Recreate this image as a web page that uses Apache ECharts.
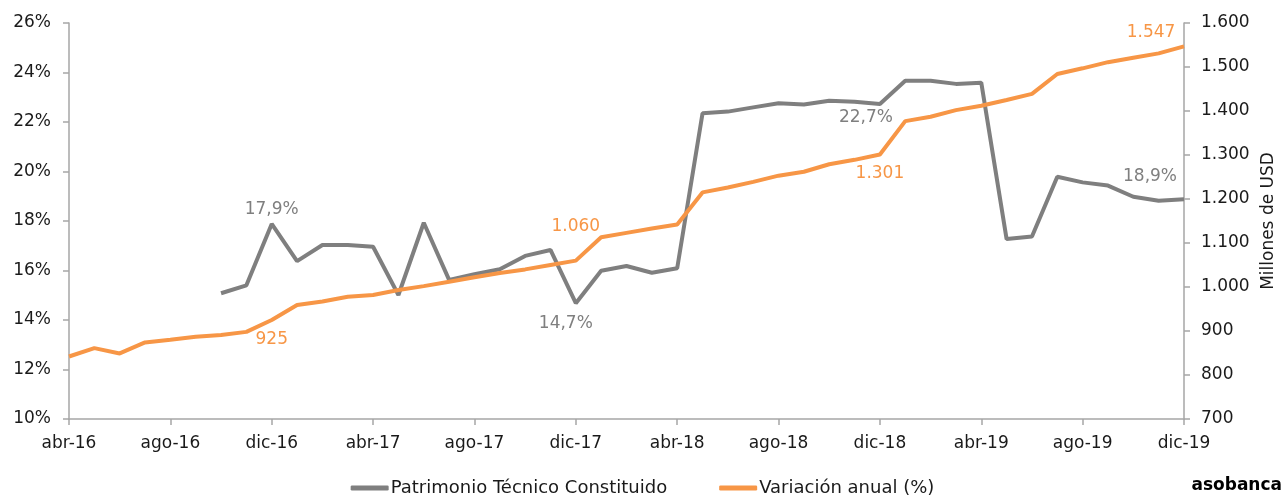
<!DOCTYPE html>
<html>
<head>
<meta charset="utf-8">
<script src="https://cdn.jsdelivr.net/npm/echarts@6/dist/echarts.min.js"></script>
<style>
  html, body { margin: 0; padding: 0; background: #fff; }
  #chart { width: 1285px; height: 496px; }
</style>
</head>
<body>
<div id="chart"></div>
<script>
// meses abr-16 .. dic-19
const months = [
  "abr-16", "may-16", "jun-16", "jul-16", "ago-16", "sep-16", "oct-16", "nov-16", "dic-16",
  "ene-17", "feb-17", "mar-17", "abr-17", "may-17", "jun-17", "jul-17", "ago-17", "sep-17", "oct-17", "nov-17", "dic-17",
  "ene-18", "feb-18", "mar-18", "abr-18", "may-18", "jun-18", "jul-18", "ago-18", "sep-18", "oct-18", "nov-18", "dic-18",
  "ene-19", "feb-19", "mar-19", "abr-19", "may-19", "jun-19", "jul-19", "ago-19", "sep-19", "oct-19", "nov-19", "dic-19"
];

// linea gris (eje izquierdo, %)
const patrimonio = [
  null, null, null, null, null, null, 15.08, 15.40, 17.88,
  16.38, 17.03, 17.03, 16.96, 15.01, 17.93, 15.62, 15.85, 16.05, 16.59, 16.83, 14.68,
  15.99, 16.18, 15.91, 16.09, 22.35, 22.42, 22.59, 22.76, 22.71, 22.86, 22.82, 22.73,
  23.67, 23.67, 23.54, 23.59, 17.27, 17.37, 19.79, 19.56, 19.43, 18.98, 18.82, 18.88
];

// linea naranja (eje derecho, millones de USD)
const variacion = [
  842, 861, 849, 874, 880, 887, 891, 898, 925,
  959, 967, 978, 982, 993, 1002, 1012, 1022, 1032, 1040, 1050, 1060,
  1113, 1123, 1133, 1142, 1215, 1226, 1239, 1253, 1262, 1279, 1289, 1301,
  1377, 1387, 1402, 1412, 1425, 1439, 1484, 1497, 1511, 1521, 1531, 1547
];

const leftTicks = { min: 10, max: 26, interval: 2 };
const rightTicks = { min: 700, max: 1600, interval: 100 };

const GREY = "#7f7f7f";
const ORANGE = "#f79646";
const AXIS = "#a6a6a6";
const FONT = "DejaVu Sans";
const TEXT = "#1a1a1a";

// etiquetas puntuales
const greyLabels = {
  8: { position: "top", distance: 6 },
  20: { position: "bottom", distance: 12, offset: [-10, 0] },
  32: { position: "bottom", distance: 5, offset: [-14, 0] },
  44: { position: "top", distance: 14, offset: [-34, 0] }
};
const orangeLabels = {
  8: { position: "bottom", distance: 11 },
  20: { position: "top", distance: 26 },
  32: { position: "bottom", distance: 11 },
  44: { position: "top", distance: 5, offset: [-33, 0] }
};

const fmtPct = v => v.toFixed(1).replace(".", ",") + "%";
const fmtThousand = v => String(Math.round(v)).replace(/\B(?=(\d{3})+(?!\d))/g, ".");

function withLabels(values, labels, color, fmt) {
  return values.map((v, i) => {
    if (!labels[i]) return v;
    return {
      value: v,
      label: Object.assign({
        show: true,
        color: color,
        fontFamily: FONT,
        fontSize: 17,
        formatter: p => fmt(p.value)
      }, labels[i])
    };
  });
}

const chart = echarts.init(document.getElementById("chart"));
chart.setOption({
  animation: false,
  textStyle: { fontFamily: FONT },
  grid: { left: 69, right: 101, top: 23, bottom: 77, containLabel: false, outerBoundsMode: "none" },
  legend: {
    top: 474,
    left: "center",
    itemWidth: 38,
    itemHeight: 5,
    itemGap: 52,
    icon: "roundRect",
    textStyle: { fontFamily: FONT, fontSize: 18, color: TEXT, padding: [0, 0, 0, -3] },
    data: ["Patrimonio Técnico Constituido", "Variación anual (%)"]
  },
  xAxis: {
    type: "category",
    boundaryGap: false,
    data: months,
    axisLine: { lineStyle: { color: AXIS, width: 1.5 } },
    axisTick: { interval: 3, length: 6, lineStyle: { color: AXIS, width: 1.5 } },
    axisLabel: { interval: 3, color: TEXT, fontSize: 17, margin: 16, fontFamily: FONT }
  },
  yAxis: [
    {
      type: "value",
      min: leftTicks.min,
      max: leftTicks.max,
      interval: leftTicks.interval,
      axisLine: { show: true, lineStyle: { color: AXIS, width: 1.5 } },
      axisTick: { show: true, length: 6, lineStyle: { color: AXIS, width: 1.5 } },
      splitLine: { show: false },
      axisLabel: { color: TEXT, fontSize: 17, margin: 18, fontFamily: FONT, formatter: v => v + "%" }
    },
    {
      type: "value",
      position: "right",
      min: rightTicks.min,
      max: rightTicks.max,
      interval: rightTicks.interval,
      name: "Millones de USD",
      nameLocation: "middle",
      nameRotate: 90,
      nameGap: 76,
      nameTextStyle: { color: TEXT, fontSize: 17, fontFamily: FONT },
      axisLine: { show: true, lineStyle: { color: AXIS, width: 1.5 } },
      axisTick: { show: true, length: 6, lineStyle: { color: AXIS, width: 1.5 } },
      splitLine: { show: false },
      axisLabel: { color: TEXT, fontSize: 17, margin: 17, fontFamily: FONT, formatter: fmtThousand }
    }
  ],
  series: [
    {
      name: "Patrimonio Técnico Constituido",
      type: "line",
      yAxisIndex: 0,
      showSymbol: true,
      symbol: "circle",
      symbolSize: 0,
      color: GREY,
      lineStyle: { color: GREY, width: 4 },
      data: withLabels(patrimonio, greyLabels, GREY, fmtPct),
      z: 2
    },
    {
      name: "Variación anual (%)",
      type: "line",
      yAxisIndex: 1,
      showSymbol: true,
      symbol: "circle",
      symbolSize: 0,
      color: ORANGE,
      lineStyle: { color: ORANGE, width: 4 },
      data: withLabels(variacion, orangeLabels, ORANGE, fmtThousand),
      z: 3
    }
  ],
  graphic: [
    {
      type: "text",
      right: 3,
      top: 477,
      style: {
        text: "asobanca",
        fontFamily: "DejaVu Sans",
        fontWeight: "bold",
        fontSize: 17,
        fill: new echarts.graphic.LinearGradient(0, 0, 1, 0, [
          { offset: 0, color: "#2b3f8f" },
          { offset: 1, color: "#3a9ad9" }
        ])
      }
    }
  ]
});
</script>
</body>
</html>
